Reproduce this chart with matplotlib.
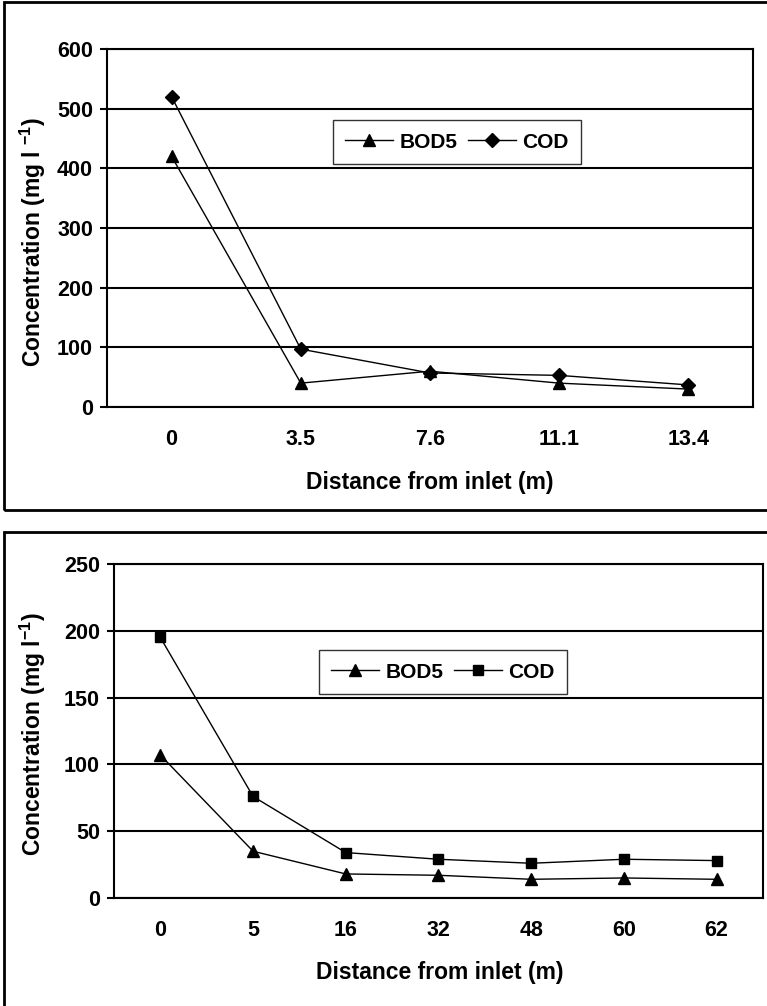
import matplotlib
matplotlib.use('Agg')
import matplotlib.pyplot as plt
from matplotlib.patches import Rectangle

# Data - top chart
top_x = ['0', '3.5', '7.6', '11.1', '13.4']
top_bod5 = [420, 40, 60, 40, 30]
top_cod = [520, 97, 57, 53, 37]

# Data - bottom chart
bot_x = ['0', '5', '16', '32', '48', '60', '62']
bot_bod5 = [107, 35, 18, 17, 14, 15, 14]
bot_cod = [195, 76, 34, 29, 26, 29, 28]

plt.rcParams['font.family'] = ['Liberation Sans', 'DejaVu Sans']
plt.rcParams['font.weight'] = 'bold'
plt.rcParams['mathtext.fontset'] = 'custom'
plt.rcParams['mathtext.rm'] = 'Liberation Sans:bold'
plt.rcParams['mathtext.bf'] = 'Liberation Sans:bold'
plt.rcParams['mathtext.default'] = 'bf'

W, H = 767, 1006
fig = plt.figure(figsize=(W / 100, H / 100), dpi=100)


def px_axes(left, top, right, bottom):
    return fig.add_axes([left / W, 1 - bottom / H, (right - left) / W, (bottom - top) / H])


def style(ax, labels, ymax, ystep):
    n = len(labels)
    ax.set_xlim(-0.5, n - 0.5)
    ax.set_ylim(0, ymax)
    ax.set_yticks(range(0, ymax + 1, ystep))
    ax.set_xticks(range(n))
    ax.set_xticklabels(labels)
    ax.tick_params(axis='x', length=0, pad=16, labelsize=15.5)
    ax.tick_params(axis='y', length=5, width=1.5, pad=5, labelsize=15.5, direction='out')
    ax.yaxis.grid(True, color='black', linewidth=1.5)
    ax.set_axisbelow(True)
    for s in ax.spines.values():
        s.set_linewidth(1.5)
        s.set_color('black')


# Outer frames
fig.patches.append(Rectangle((4 / W, 1 - 510 / H), 1, 508 / H, transform=fig.transFigure,
                             fill=False, edgecolor='black', linewidth=2, clip_on=False))
fig.patches.append(Rectangle((4 / W, -0.01), 1, 1.01 - 532 / H, transform=fig.transFigure,
                             fill=False, edgecolor='black', linewidth=2, clip_on=False))

leg_kw = dict(loc='center', bbox_transform=fig.transFigure, ncol=2, frameon=True,
              fancybox=False, edgecolor='black', fontsize=15, handlelength=2.3,
              columnspacing=0.5, handletextpad=0.3, borderpad=0.6)

# Top chart
ax1 = px_axes(107, 49, 753, 407)
ax1.plot(range(len(top_x)), top_bod5, color='black', lw=1, marker='^', ms=9, label='BOD5')
ax1.plot(range(len(top_x)), top_cod, color='black', lw=1, marker='D', ms=7, label='COD')
style(ax1, top_x, 600, 100)
ax1.legend(bbox_to_anchor=(457 / W, 1 - 142 / H), **leg_kw)
fig.text(33 / W, 1 - 242 / H, r'Concentration (mg l $^{-1}$)', rotation=90,
         ha='center', va='center', fontsize=16.5, fontweight='bold')
fig.text(430 / W, 1 - 482 / H, 'Distance from inlet (m)', ha='center', va='center',
         fontsize=16.5, fontweight='bold')

# Bottom chart
ax2 = px_axes(114, 564, 763, 898)
ax2.plot(range(len(bot_x)), bot_bod5, color='black', lw=1, marker='^', ms=9, label='BOD5')
ax2.plot(range(len(bot_x)), bot_cod, color='black', lw=1, marker='s', ms=7, label='COD')
style(ax2, bot_x, 250, 50)
ax2.legend(bbox_to_anchor=(443 / W, 1 - 672 / H), **leg_kw)
fig.text(33 / W, 1 - 734 / H, r'Concentration (mg l$^{-1}$)', rotation=90,
         ha='center', va='center', fontsize=16.5, fontweight='bold')
fig.text(440 / W, 1 - 973 / H, 'Distance from inlet (m)', ha='center', va='center',
         fontsize=16.5, fontweight='bold')

fig.savefig('out.png', dpi=100)
